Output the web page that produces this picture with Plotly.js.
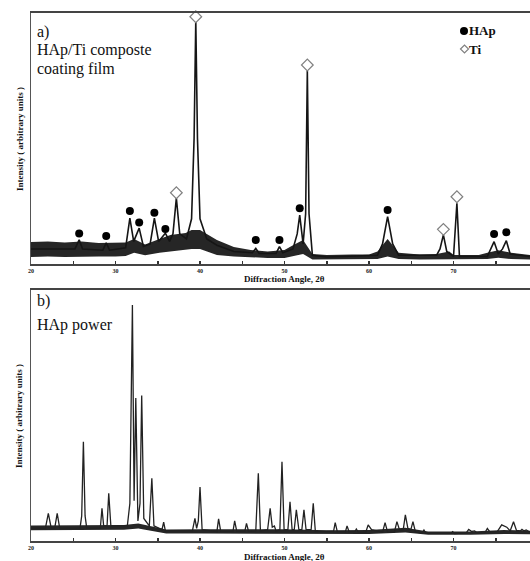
<!DOCTYPE html>
<html>
<head>
<meta charset="utf-8">
<script src="https://cdn.plot.ly/plotly-3.0.1.min.js"></script>
<style>html,body{margin:0;padding:0;background:#fff;overflow:hidden}#chart{width:530px;height:561px}</style>
</head>
<body>
<div id="chart"></div>
<script>
// ---- Panel a: HAp/Ti composite coating film ----
var aX = [20,25.2,25.7,26.1,28.5,28.9,29.3,31.2,31.7,32.15,32.8,33.3,34.1,34.6,35.1,35.9,36.4,36.8,37.2,37.6,38.4,39.0,39.3,39.5,39.7,40.0,40.8,42,44,46.2,46.6,47.0,49.0,49.4,49.8,51,51.5,51.8,52.2,52.5,52.7,52.9,53.3,55,61.0,61.6,62.2,62.8,63.5,68.0,68.4,68.8,69.2,70.0,70.4,70.7,74.0,74.4,74.8,75.3,75.8,76.25,76.7,79.05];
var aY = [6,6,9.6,6,5.5,8.4,5.5,6.5,18.3,9,14.3,7,8,18.3,9,12.3,9,12,26.3,12,10,18,50,97,50,18,10,7.5,5,4.5,6.2,4.2,4.2,6.9,4.5,6,12,19.5,8,20,77,20,3.5,2.8,3.5,8,18.9,8,3.5,3.5,6,11.6,5,3,24.2,3,3,6,8.9,4,6,9.3,4,3];
var aBandX  = [20,22,24,26,28,30,31.2,32.2,33.5,35.2,36.5,38.3,39,40,40.8,42,44,46,48,50,51,52.2,53.3,55,58,60,61,62.2,63.5,66,68,69.5,70,71,73,74,75.3,76.8,79.05];
var aBandHi = [8.8,9,8.6,9,8.4,8.4,8.6,10,7.8,10,11.6,12.4,13.5,13.5,12,9.6,6.8,5.6,5,5.6,7.5,9.6,4,3.6,3.8,3.8,5,10,4.5,3.8,4,5,3.6,3.6,3.6,4.5,5.5,4.5,3.6];
var aBandLo = [2.8,3,2.8,3,3,3,3.2,4.5,3.5,4.5,5,5.5,6,6,5,3.6,3,2.6,2.4,2.4,3,4,1.8,1.8,1.8,2,2,3,2,1.8,1.8,2,1.8,1.8,1.8,2,2.5,2,1.8];
var hapX = [25.7,28.9,31.7,32.8,34.6,35.9,46.6,49.4,51.8,62.2,74.8,76.25];
var hapY = [12.2,11.2,21.1,16.5,20.4,13.9,9.6,9.6,22.2,21.5,11.95,12.6];
var tiX = [37.2,39.5,52.7,68.8,70.4];
var tiY = [28.4,98.5,79.3,13.8,26.8];

// ---- Panel b: HAp powder ----
var bX = [20,21.7,22.05,22.4,22.8,23.1,23.4,25.8,26.0,26.2,26.4,26.6,28.2,28.4,28.6,29.0,29.2,29.45,31.4,31.7,32.0,32.2,32.4,32.65,32.9,33.1,33.35,34.0,34.3,34.55,35.5,35.7,35.9,39.1,39.4,39.6,39.8,40.0,40.25,42.0,42.2,42.45,43.9,44.1,44.35,45.3,45.5,45.75,46.6,46.9,47.15,48.0,48.3,48.55,48.8,49.0,49.45,49.7,49.95,50.4,50.65,50.9,51.15,51.4,51.7,52.05,52.3,52.55,53.15,53.4,53.65,55.8,56.0,56.25,57.2,57.4,57.65,58.3,58.5,58.75,59.6,59.9,60.3,61.6,61.9,62.2,63.0,63.3,63.6,64.05,64.3,64.6,64.95,65.2,65.5,66.3,66.5,66.75,69.7,69.9,70.1,71.5,71.8,72.15,72.5,72.8,73.7,74.0,74.3,75.2,75.7,76.3,76.7,77.1,77.45,77.9,78.1,78.35,78.6,79.05];
var bY = [5,5,11,5,5,11,5,5,10,39.5,10,5,5,13,6,6,19,6,6,15,94,16,57,8,15,58,9,6,25,6,4.5,7.5,4,4,9,5,8,21.5,4.5,3.8,8.8,3.8,3.8,8,3.8,3.8,7,3.8,4,27,4,4.5,13,5.5,6,4,4.5,31.6,4.5,4.5,15.6,4.5,4.5,12.4,4.5,4.5,12.4,4.5,4.5,15,3.8,3.8,7.3,3.6,3.6,6,3.6,3.6,4.8,3.4,3.4,6.4,4.5,3.5,7.3,3.5,3.5,7.7,4.5,4.5,10.4,5,4.5,7.7,3.5,3.3,4.4,3,3,3.7,3,3.2,4.6,3.8,4,3.2,3.2,5,3.6,3.8,6.4,5.5,4,7.7,4.2,4,4.6,4,4.4,3.5];
var bBandX  = [20,25,31,32.7,34,36,40,45,50,55,60,64.3,67,72,76,79.05];
var bBandHi = [6.2,6.2,6.4,7,6,4.6,4.7,4.6,4.7,4.3,4.4,5.3,3.8,3.8,4.4,4.1];
var bBandLo = [4.3,4.3,4.5,5,4.1,3,3,3,3.1,2.8,2.8,3.4,2.5,2.5,2.8,2.7];

var tickVals = [20,25,30,35,40,45,50,55,60,65,70,75];
var tickText = ['20','','30','','40','','50','','60','','70',''];

var SERIF = 'Liberation Serif';
var INK = '#151515';

function X(px){ return (px - 31) / 499; }
function Y(py){ return (541 - py) / 528; }

function bandTraces(x, lo, hi, xa, ya){
  return [
    {x:x, y:lo, xaxis:xa, yaxis:ya, type:'scatter', mode:'lines', line:{width:0, color:INK}, hoverinfo:'skip', showlegend:false},
    {x:x, y:hi, xaxis:xa, yaxis:ya, type:'scatter', mode:'lines', line:{width:0, color:INK}, fill:'tonexty', fillcolor:'#262626', hoverinfo:'skip', showlegend:false}
  ];
}

var data = [].concat(
  bandTraces(aBandX, aBandLo, aBandHi, 'x', 'y'),
  [{x:aX, y:aY, xaxis:'x', yaxis:'y', type:'scatter', mode:'lines', line:{width:1.6, color:INK}, showlegend:false},
   {x:hapX, y:hapY, xaxis:'x', yaxis:'y', type:'scatter', mode:'markers', cliponaxis:false,
    marker:{symbol:'circle', size:8, color:'#000'}, showlegend:false},
   {x:tiX, y:tiY, xaxis:'x', yaxis:'y', type:'scatter', mode:'markers', cliponaxis:false,
    marker:{symbol:'diamond', size:9, color:'#fff', line:{color:'#808080', width:1.2}}, showlegend:false}],
  bandTraces(bBandX, bBandLo, bBandHi, 'x2', 'y2'),
  [{x:bX, y:bY, xaxis:'x2', yaxis:'y2', type:'scatter', mode:'lines', line:{width:1.3, color:'#222'}, showlegend:false}]
);

function xAxis(anchor){
  return {anchor:anchor, range:[20,79.05], domain:[0,1], showgrid:false, zeroline:false,
    showline:true, linecolor:'#444', linewidth:2, mirror:true,
    tickmode:'array', tickvals:tickVals, ticktext:tickText, ticks:'inside', ticklen:3, tickwidth:1.5, tickcolor:'#333',
    ticklabelstandoff:0,
    tickfont:{family:SERIF, size:6, color:'#222', weight:'bold'}};
}
function yAxis(anchor, dom){
  return {anchor:anchor, domain:dom, range:[0,100], showgrid:false, zeroline:false,
    showline:true, linecolor:'#555', linewidth:1.5, ticks:'', showticklabels:false};
}

var labelFont = {family:SERIF, size:16, color:'#111'};
var boldSmall = {family:SERIF, size:9, color:'#111', weight:'bold'};
var yTitleFont = {family:SERIF, size:9, color:'#111', weight:'bold'};
function ann(px, py, text, font, xanchor, angle){
  return {xref:'paper', yref:'paper', x:X(px), y:Y(py), text:text, showarrow:false,
    xanchor:xanchor||'left', yanchor:'middle', font:font, textangle:angle||0};
}

var layout = {
  width:530, height:561,
  margin:{l:31, r:0, t:13, b:20},
  paper_bgcolor:'#fff', plot_bgcolor:'#fff',
  xaxis: xAxis('y'),
  yaxis: yAxis('x', [Y(264), 1]),
  xaxis2: xAxis('y2'),
  yaxis2: yAxis('x2', [0, Y(290)]),
  annotations:[
    ann(35, 32, 'a)', labelFont),
    ann(35, 50, 'HAp/Ti composte', labelFont),
    ann(35, 68.5, 'coating film', labelFont),
    ann(35, 301, 'b)', labelFont),
    ann(35, 325, 'HAp power', labelFont),
    ann(467, 31, 'HAp', {family:SERIF, size:13, color:'#111', weight:'bold'}),
    ann(467, 49, 'Ti', {family:SERIF, size:13, color:'#111', weight:'bold'}),
    ann(284, 279, 'Diffraction Angle, 2θ', boldSmall, 'center'),
    ann(284, 557, 'Diffraction Angle, 2θ', boldSmall, 'center'),
    ann(20, 139, 'Intensity ( arbitrary units )', yTitleFont, 'center', -90),
    ann(19, 416, 'Intensity ( arbitrary units )', yTitleFont, 'center', -90)
  ],
  shapes:[
    {type:'circle', xref:'paper', yref:'paper', x0:X(460), x1:X(468), y0:Y(35), y1:Y(27), fillcolor:'#000', line:{width:0}},
    {type:'path', xref:'paper', yref:'paper',
     path:'M'+X(460.5)+','+Y(49)+' L'+X(464.5)+','+Y(45)+' L'+X(468.5)+','+Y(49)+' L'+X(464.5)+','+Y(53)+' Z',
     fillcolor:'#fff', line:{color:'#808080', width:1.2}}
  ]
};

Plotly.newPlot('chart', data, layout, {displayModeBar:false, staticPlot:true});
</script>
</body>
</html>
